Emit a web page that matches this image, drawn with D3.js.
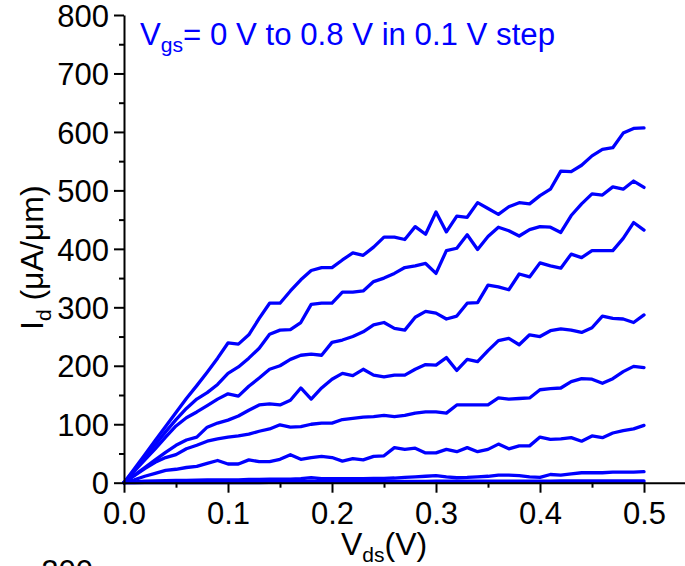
<!DOCTYPE html>
<html>
<head>
<meta charset="utf-8">
<script src="https://cdn.jsdelivr.net/npm/d3@7"></script>
<style>
  html, body { margin: 0; padding: 0; background: #fff; }
  svg { display: block; font-family: "Liberation Sans", Arial, sans-serif; }
</style>
</head>
<body>
<svg id="chart" width="685" height="566"></svg>
<script>
// Drain voltage sweep (V)
const vds = [0.00,0.01,0.02,0.03,0.04,0.05,0.06,0.07,0.08,0.09,
             0.10,0.11,0.12,0.13,0.14,0.15,0.16,0.17,0.18,0.19,
             0.20,0.21,0.22,0.23,0.24,0.25,0.26,0.27,0.28,0.29,
             0.30,0.31,0.32,0.33,0.34,0.35,0.36,0.37,0.38,0.39,
             0.40,0.41,0.42,0.43,0.44,0.45,0.46,0.47,0.48,0.49,0.50];

// Drain current (uA/um) for each gate voltage
const idVgs00 = [0,0.1,0.1,0.2,0.2,0.2,0.2,0.3,0.3,0.3,
                 0.3,0.3,0.3,0.3,0.4,0.4,0.4,0.4,0.4,0.4,
                 0.4,0.4,0.4,0.5,0.5,0.5,0.5,0.5,0.5,0.5,
                 0.5,0.5,0.5,0.5,0.5,0.6,0.6,0.6,0.6,0.6,
                 0.6,0.6,0.6,0.6,0.6,0.6,0.6,0.7,0.7,0.7,0.7];
const idVgs01 = [0,0.3,0.5,0.7,0.8,1.0,1.1,1.2,1.3,1.4,
                 1.5,1.5,1.6,1.6,1.7,1.7,1.8,1.8,1.9,2.0,
                 2.0,2.0,2.1,2.1,2.2,2.2,2.3,2.3,2.4,2.4,
                 2.5,2.5,2.5,2.6,2.6,2.6,2.7,2.7,2.7,2.8,
                 2.8,2.8,2.9,2.9,2.9,3.0,3.0,3.0,3.1,3.1,3.2];
const idVgs02 = [0,1.5,2.5,3,3.5,4,4,4.5,5,5,
                 5,5,5.5,5.5,6,6,6,7,8.5,7,
                 7,7,7,7,7.5,7.5,8,9,10,11,
                 12,10,8.5,9,10,11,13,13,12,10,
                 9,14,13,15,17,17,17,18,18,18,19];
const idVgs03 = [0,5,11,16,21,23,26,28,33,38,
                 32,32,39,36,36,40,48,40,43,45,
                 43,37,41,39,45,46,60,57,59,51,
                 51,57,53,60,53,57,66,58,63,63,
                 78,74,75,77,71,80,77,85,89,92,98];
const idVgs04 = [0,12,24,35,43,48,58,64,71,75,
                 78,80,83,88,92,99,95,96,100,102,
                 102,108,110,112,113,115,113,115,119,121,
                 121,119,133,133,133,133,145,143,144,145,
                 159,161,162,173,178,177,170,178,190,199,197];
const idVgs05 = [0,13,26,39,52,64,73,78,95,102,
                 107,114,124,133,135,133,141,162,143,162,
                 177,187,183,194,184,181,184,184,194,202,
                 201,214,192,211,207,226,243,247,236,253,
                 250,260,263,261,257,265,285,281,280,274,287];
const idVgs06 = [0,20,39,58,78,97,111,121,132,143,
                 152,148,165,179,194,200,211,218,220,218,
                 240,244,250,258,270,274,264,261,283,293,
                 290,280,285,307,308,338,335,330,357,352,
                 376,371,367,391,385,397,397,397,418,445,432];
const idVgs07 = [0,22,44,65,87,108,127,143,154,168,
                 187,198,213,230,254,261,262,274,305,307,
                 307,326,326,328,344,350,358,368,371,375,
                 358,397,401,424,399,421,437,431,422,433,
                 438,437,428,457,477,494,492,506,502,516,505];
const idVgs08 = [0,24,48,72,96,120,144,166,189,213,
                 239,237,253,281,307,307,328,347,363,368,
                 368,381,393,389,403,420,420,416,438,425,
                 463,429,456,454,479,469,459,472,479,477,
                 491,502,533,532,543,559,570,573,598,606,607];

const curves = [idVgs00, idVgs01, idVgs02, idVgs03, idVgs04,
                idVgs05, idVgs06, idVgs07, idVgs08];

const yMajor = [0,100,200,300,400,500,600,700,800];
const yMinor = [50,150,250,350,450,550,650,750];
const xMajor = [0.0,0.1,0.2,0.3,0.4,0.5];
const xMinor = [0.05,0.15,0.25,0.35,0.45];

const svg = d3.select("#chart");
const lineColor = "#0000ff";

const x = d3.scaleLinear().domain([0, 0.56]).range([124, 124 + 0.56 * 1040]);
const y = d3.scaleLinear().domain([0, 800]).range([482.7, 15]);

// Curves
const line = d3.line()
  .x((d, i) => x(vds[i]))
  .y(d => y(d));

svg.append("g")
  .selectAll("path")
  .data(curves)
  .join("path")
  .attr("d", d => line(d))
  .attr("fill", "none")
  .attr("stroke", lineColor)
  .attr("stroke-width", 3.3)
  .attr("stroke-linejoin", "round")
  .attr("stroke-linecap", "round");

// Axes
function styleAxis(g) {
  g.selectAll(".domain").attr("stroke", "#000").attr("stroke-width", 2);
  g.selectAll(".tick line").attr("stroke", "#000").attr("stroke-width", 2);
  g.selectAll(".tick text")
    .attr("fill", "#000")
    .style("font-family", "'Liberation Sans', Arial, sans-serif")
    .style("font-size", "31px");
}

const yAxis = svg.append("g")
  .attr("transform", "translate(124,0)")
  .call(d3.axisLeft(y).tickValues(yMajor).tickSize(10).tickSizeOuter(0)
        .tickPadding(5).tickFormat(d3.format("d")))
  .call(styleAxis);
yAxis.selectAll(".tick text").attr("dy", "0.36em");

svg.append("g")
  .attr("transform", "translate(124,0)")
  .call(d3.axisLeft(y).tickValues(yMinor).tickSize(5).tickSizeOuter(0).tickFormat(""))
  .call(styleAxis)
  .select(".domain").remove();

const xAxis = svg.append("g")
  .attr("transform", "translate(0,482.7)")
  .call(d3.axisBottom(x).tickValues(xMajor).tickSize(10).tickSizeOuter(0)
        .tickPadding(9).tickFormat(d3.format(".1f")))
  .call(styleAxis);

svg.append("g")
  .attr("transform", "translate(0,482.7)")
  .call(d3.axisBottom(x).tickValues(xMinor).tickSize(5).tickSizeOuter(0).tickFormat(""))
  .call(styleAxis)
  .select(".domain").remove();

// Axis titles
const xTitle = svg.append("text")
  .attr("x", 341).attr("y", 555)
  .attr("fill", "#000")
  .style("font-size", "32px");
xTitle.append("tspan").text("V");
xTitle.append("tspan").attr("dy", 7).style("font-size", "21px").text("ds");
xTitle.append("tspan").attr("dy", -7).text("(V)");

const yTitle = svg.append("text")
  .attr("transform", "translate(43,330) rotate(-90)")
  .attr("fill", "#000")
  .style("font-size", "32px");
yTitle.append("tspan").text("I");
yTitle.append("tspan").attr("dy", 8).style("font-size", "21px").text("d");
yTitle.append("tspan").attr("dy", -8).text(" (\u03bcA/\u03bcm)");

// Gate-voltage note
const note = svg.append("text")
  .attr("x", 140).attr("y", 45)
  .attr("fill", lineColor)
  .attr("textLength", 415)
  .attr("lengthAdjust", "spacingAndGlyphs")
  .style("font-size", "31px");
note.append("tspan").text("V");
note.append("tspan").attr("dy", 7).style("font-size", "21px").text("gs");
note.append("tspan").attr("dy", -7).text("= 0 V to 0.8 V in 0.1 V step");

// Top of the next panel's axis label
svg.append("text")
  .attr("x", 93).attr("y", 582)
  .attr("text-anchor", "end")
  .attr("fill", "#000")
  .style("font-size", "31px")
  .text("200");
</script>
</body>
</html>
